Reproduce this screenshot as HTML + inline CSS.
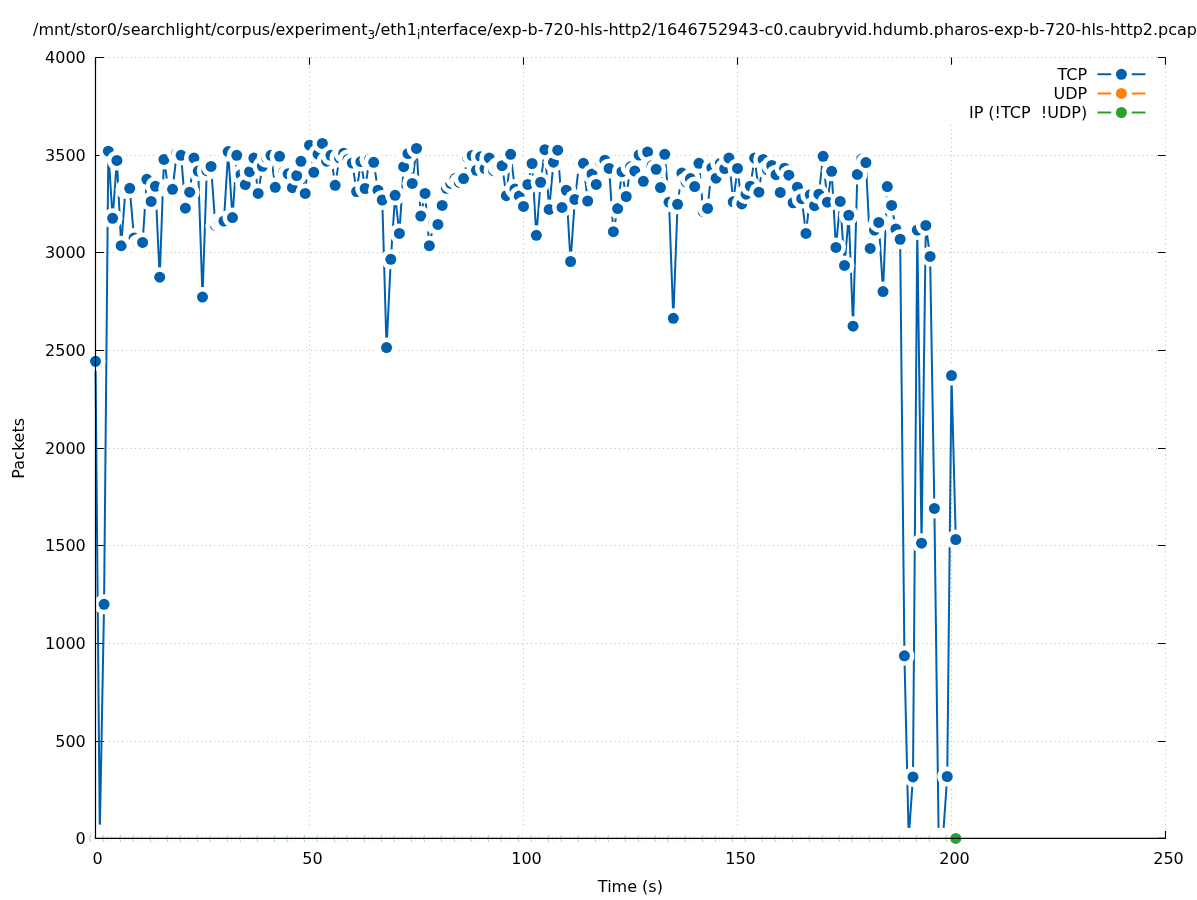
<!DOCTYPE html><html><head><meta charset="utf-8"><title>Packets</title><style>html,body{margin:0;padding:0;background:#fff;overflow:hidden}svg{display:block}text{font-family:"DejaVu Sans","Liberation Sans",sans-serif;font-size:16px;fill:#000}</style></head><body>
<svg width="1197" height="900" viewBox="0 0 1197 900">
<rect width="1197" height="900" fill="#fff"/>
<path d="M95.5 741.5H1165.5M95.5 643.5H1165.5M95.5 545.5H1165.5M95.5 448.5H1165.5M95.5 350.5H1165.5M95.5 252.5H1165.5M95.5 155.5H1165.5M95.5 57.5H1165.5M309.5 838.4V57.5M523.5 838.4V57.5M737.5 838.4V57.5M951.5 838.4V57.5M1165.5 838.4V57.5" stroke="#b8b8b8" stroke-width="1" stroke-dasharray="1 3.4" fill="none"/>
<path d="M95.5 838.4h8.3M1165.5 838.4h-7.5M95.5 741.5h8.3M1165.5 741.5h-7.5M95.5 643.5h8.3M1165.5 643.5h-7.5M95.5 545.5h8.3M1165.5 545.5h-7.5M95.5 448.5h8.3M1165.5 448.5h-7.5M95.5 350.5h8.3M1165.5 350.5h-7.5M95.5 252.5h8.3M1165.5 252.5h-7.5M95.5 155.5h8.3M1165.5 155.5h-7.5M95.5 57.5h8.3M1165.5 57.5h-7.5M95.5 838.4v-7.3M95.5 57.5v7.2M309.5 838.4v-7.3M309.5 57.5v7.2M523.5 838.4v-7.3M523.5 57.5v7.2M737.5 838.4v-7.3M737.5 57.5v7.2M951.5 838.4v-7.3M951.5 57.5v7.2M1165.5 838.4v-7.3M1165.5 57.5v7.2" stroke="#000" stroke-width="1.1" fill="none"/>
<rect x="940" y="65.5" width="218" height="59" fill="#fff"/>
<text x="85.8" y="844.0" text-anchor="end">0</text><text x="85.8" y="747.1" text-anchor="end">500</text><text x="85.8" y="649.1" text-anchor="end">1000</text><text x="85.8" y="551.1" text-anchor="end">1500</text><text x="85.8" y="454.1" text-anchor="end">2000</text><text x="85.8" y="356.1" text-anchor="end">2500</text><text x="85.8" y="258.1" text-anchor="end">3000</text><text x="85.8" y="161.1" text-anchor="end">3500</text><text x="85.8" y="63.1" text-anchor="end">4000</text><text x="97.5" y="863.8" text-anchor="middle">0</text><text x="312.5" y="863.8" text-anchor="middle">50</text><text x="526.5" y="863.8" text-anchor="middle">100</text><text x="740.5" y="863.8" text-anchor="middle">150</text><text x="954.5" y="863.8" text-anchor="middle">200</text><text x="1168.5" y="863.8" text-anchor="middle">250</text>
<path d="M95.50 361.27L99.78 834.50L104.06 604.33L108.34 151.21L112.62 218.37L116.90 160.38L121.18 245.70L125.46 189.08L129.74 188.30L134.02 238.08L138.30 243.94L142.58 242.38L146.86 179.32L151.14 201.38L155.42 186.35L159.70 277.13L163.98 159.41L168.26 188.30L172.54 189.28L176.82 153.16L181.10 155.31L185.38 208.21L189.66 192.21L193.94 158.04L198.22 171.12L202.50 297.04L206.78 170.73L211.06 166.44L215.34 225.39L219.62 222.27L223.90 221.10L228.18 151.60L232.46 217.58L236.74 155.31L241.02 174.63L245.30 184.59L249.58 171.71L253.86 158.04L258.14 193.38L262.42 166.24L266.70 157.85L270.98 155.31L275.26 187.32L279.54 156.28L283.82 171.71L288.10 173.85L292.38 187.72L296.66 175.61L300.94 161.36L305.22 193.38L309.50 145.16L313.78 172.29L318.06 154.14L322.34 143.40L326.62 161.16L330.90 155.31L335.18 185.37L339.46 157.85L343.74 153.16L348.02 159.21L352.30 163.12L356.58 191.62L360.86 161.55L365.14 188.50L369.42 159.41L373.70 162.34L377.98 190.25L382.26 200.01L386.54 347.60L390.82 259.36L395.10 195.33L399.38 233.40L403.66 166.63L407.94 153.55L412.22 183.42L416.50 148.47L420.78 216.02L425.06 193.38L429.34 245.70L433.62 223.44L437.90 224.42L442.18 205.48L446.46 188.30L450.74 183.42L455.02 178.54L459.30 182.44L463.58 178.54L467.86 157.65L472.14 155.50L476.42 170.34L480.70 156.67L484.98 168.58L489.26 158.04L493.54 170.73L497.82 166.83L502.10 165.65L506.38 195.72L510.66 154.33L514.94 188.89L519.22 196.11L523.50 206.46L527.78 184.40L532.06 163.51L536.34 235.35L540.62 182.25L544.90 149.65L549.18 209.39L553.46 162.14L557.74 150.23L562.02 207.43L566.30 190.25L570.58 261.51L574.86 199.43L579.14 163.90L583.42 163.31L587.70 200.99L591.98 174.05L596.26 184.40L600.54 162.14L604.82 160.19L609.10 168.39L613.38 231.64L617.66 208.60L621.94 171.71L626.22 196.50L630.50 166.83L634.78 171.12L639.06 155.11L643.34 181.27L647.62 151.99L651.90 165.85L656.18 169.36L660.46 187.52L664.74 154.33L669.02 202.16L673.30 318.32L677.58 204.31L681.86 173.07L686.14 182.05L690.42 178.54L694.70 186.54L698.98 163.31L703.26 211.73L707.54 208.41L711.82 167.80L716.10 178.15L720.38 163.31L724.66 168.58L728.94 158.04L733.22 201.77L737.50 168.39L741.78 203.92L746.06 194.16L750.34 186.15L754.62 158.04L758.90 192.21L763.18 159.41L767.46 169.75L771.74 165.46L776.02 174.63L780.30 192.40L784.58 168.19L788.86 175.22L793.14 202.75L797.42 187.13L801.70 198.65L805.98 233.40L810.26 194.74L814.54 205.68L818.82 194.16L823.10 156.28L827.38 202.16L831.66 171.32L835.94 247.45L840.22 201.38L844.50 265.41L848.78 215.24L853.06 326.13L857.34 174.44L861.62 159.02L865.90 162.53L870.18 248.43L874.46 230.08L878.74 222.47L883.02 291.57L887.30 186.54L891.58 205.48L895.86 229.10L900.14 239.25L904.42 655.86L908.70 837.81L912.98 776.90L917.26 230.08L921.54 543.22L925.82 225.39L930.10 256.43L934.38 508.47L938.66 837.81L942.94 837.81L947.22 776.51L951.50 375.52L955.78 539.51" stroke="#0060ad" stroke-width="2.0" fill="none" stroke-linejoin="round"/><circle cx="95.50" cy="361.27" r="10.0" fill="#fff"/><circle cx="95.50" cy="361.27" r="5.5" fill="#0060ad"/><circle cx="99.78" cy="834.50" r="10.0" fill="#fff"/><circle cx="99.78" cy="834.50" r="5.5" fill="#0060ad"/><circle cx="104.06" cy="604.33" r="10.0" fill="#fff"/><circle cx="104.06" cy="604.33" r="5.5" fill="#0060ad"/><circle cx="108.34" cy="151.21" r="10.0" fill="#fff"/><circle cx="108.34" cy="151.21" r="5.5" fill="#0060ad"/><circle cx="112.62" cy="218.37" r="10.0" fill="#fff"/><circle cx="112.62" cy="218.37" r="5.5" fill="#0060ad"/><circle cx="116.90" cy="160.38" r="10.0" fill="#fff"/><circle cx="116.90" cy="160.38" r="5.5" fill="#0060ad"/><circle cx="121.18" cy="245.70" r="10.0" fill="#fff"/><circle cx="121.18" cy="245.70" r="5.5" fill="#0060ad"/><circle cx="125.46" cy="189.08" r="10.0" fill="#fff"/><circle cx="125.46" cy="189.08" r="5.5" fill="#0060ad"/><circle cx="129.74" cy="188.30" r="10.0" fill="#fff"/><circle cx="129.74" cy="188.30" r="5.5" fill="#0060ad"/><circle cx="134.02" cy="238.08" r="10.0" fill="#fff"/><circle cx="134.02" cy="238.08" r="5.5" fill="#0060ad"/><circle cx="138.30" cy="243.94" r="10.0" fill="#fff"/><circle cx="138.30" cy="243.94" r="5.5" fill="#0060ad"/><circle cx="142.58" cy="242.38" r="10.0" fill="#fff"/><circle cx="142.58" cy="242.38" r="5.5" fill="#0060ad"/><circle cx="146.86" cy="179.32" r="10.0" fill="#fff"/><circle cx="146.86" cy="179.32" r="5.5" fill="#0060ad"/><circle cx="151.14" cy="201.38" r="10.0" fill="#fff"/><circle cx="151.14" cy="201.38" r="5.5" fill="#0060ad"/><circle cx="155.42" cy="186.35" r="10.0" fill="#fff"/><circle cx="155.42" cy="186.35" r="5.5" fill="#0060ad"/><circle cx="159.70" cy="277.13" r="10.0" fill="#fff"/><circle cx="159.70" cy="277.13" r="5.5" fill="#0060ad"/><circle cx="163.98" cy="159.41" r="10.0" fill="#fff"/><circle cx="163.98" cy="159.41" r="5.5" fill="#0060ad"/><circle cx="168.26" cy="188.30" r="10.0" fill="#fff"/><circle cx="168.26" cy="188.30" r="5.5" fill="#0060ad"/><circle cx="172.54" cy="189.28" r="10.0" fill="#fff"/><circle cx="172.54" cy="189.28" r="5.5" fill="#0060ad"/><circle cx="176.82" cy="153.16" r="10.0" fill="#fff"/><circle cx="176.82" cy="153.16" r="5.5" fill="#0060ad"/><circle cx="181.10" cy="155.31" r="10.0" fill="#fff"/><circle cx="181.10" cy="155.31" r="5.5" fill="#0060ad"/><circle cx="185.38" cy="208.21" r="10.0" fill="#fff"/><circle cx="185.38" cy="208.21" r="5.5" fill="#0060ad"/><circle cx="189.66" cy="192.21" r="10.0" fill="#fff"/><circle cx="189.66" cy="192.21" r="5.5" fill="#0060ad"/><circle cx="193.94" cy="158.04" r="10.0" fill="#fff"/><circle cx="193.94" cy="158.04" r="5.5" fill="#0060ad"/><circle cx="198.22" cy="171.12" r="10.0" fill="#fff"/><circle cx="198.22" cy="171.12" r="5.5" fill="#0060ad"/><circle cx="202.50" cy="297.04" r="10.0" fill="#fff"/><circle cx="202.50" cy="297.04" r="5.5" fill="#0060ad"/><circle cx="206.78" cy="170.73" r="10.0" fill="#fff"/><circle cx="206.78" cy="170.73" r="5.5" fill="#0060ad"/><circle cx="211.06" cy="166.44" r="10.0" fill="#fff"/><circle cx="211.06" cy="166.44" r="5.5" fill="#0060ad"/><circle cx="215.34" cy="225.39" r="10.0" fill="#fff"/><circle cx="215.34" cy="225.39" r="5.5" fill="#0060ad"/><circle cx="219.62" cy="222.27" r="10.0" fill="#fff"/><circle cx="219.62" cy="222.27" r="5.5" fill="#0060ad"/><circle cx="223.90" cy="221.10" r="10.0" fill="#fff"/><circle cx="223.90" cy="221.10" r="5.5" fill="#0060ad"/><circle cx="228.18" cy="151.60" r="10.0" fill="#fff"/><circle cx="228.18" cy="151.60" r="5.5" fill="#0060ad"/><circle cx="232.46" cy="217.58" r="10.0" fill="#fff"/><circle cx="232.46" cy="217.58" r="5.5" fill="#0060ad"/><circle cx="236.74" cy="155.31" r="10.0" fill="#fff"/><circle cx="236.74" cy="155.31" r="5.5" fill="#0060ad"/><circle cx="241.02" cy="174.63" r="10.0" fill="#fff"/><circle cx="241.02" cy="174.63" r="5.5" fill="#0060ad"/><circle cx="245.30" cy="184.59" r="10.0" fill="#fff"/><circle cx="245.30" cy="184.59" r="5.5" fill="#0060ad"/><circle cx="249.58" cy="171.71" r="10.0" fill="#fff"/><circle cx="249.58" cy="171.71" r="5.5" fill="#0060ad"/><circle cx="253.86" cy="158.04" r="10.0" fill="#fff"/><circle cx="253.86" cy="158.04" r="5.5" fill="#0060ad"/><circle cx="258.14" cy="193.38" r="10.0" fill="#fff"/><circle cx="258.14" cy="193.38" r="5.5" fill="#0060ad"/><circle cx="262.42" cy="166.24" r="10.0" fill="#fff"/><circle cx="262.42" cy="166.24" r="5.5" fill="#0060ad"/><circle cx="266.70" cy="157.85" r="10.0" fill="#fff"/><circle cx="266.70" cy="157.85" r="5.5" fill="#0060ad"/><circle cx="270.98" cy="155.31" r="10.0" fill="#fff"/><circle cx="270.98" cy="155.31" r="5.5" fill="#0060ad"/><circle cx="275.26" cy="187.32" r="10.0" fill="#fff"/><circle cx="275.26" cy="187.32" r="5.5" fill="#0060ad"/><circle cx="279.54" cy="156.28" r="10.0" fill="#fff"/><circle cx="279.54" cy="156.28" r="5.5" fill="#0060ad"/><circle cx="283.82" cy="171.71" r="10.0" fill="#fff"/><circle cx="283.82" cy="171.71" r="5.5" fill="#0060ad"/><circle cx="288.10" cy="173.85" r="10.0" fill="#fff"/><circle cx="288.10" cy="173.85" r="5.5" fill="#0060ad"/><circle cx="292.38" cy="187.72" r="10.0" fill="#fff"/><circle cx="292.38" cy="187.72" r="5.5" fill="#0060ad"/><circle cx="296.66" cy="175.61" r="10.0" fill="#fff"/><circle cx="296.66" cy="175.61" r="5.5" fill="#0060ad"/><circle cx="300.94" cy="161.36" r="10.0" fill="#fff"/><circle cx="300.94" cy="161.36" r="5.5" fill="#0060ad"/><circle cx="305.22" cy="193.38" r="10.0" fill="#fff"/><circle cx="305.22" cy="193.38" r="5.5" fill="#0060ad"/><circle cx="309.50" cy="145.16" r="10.0" fill="#fff"/><circle cx="309.50" cy="145.16" r="5.5" fill="#0060ad"/><circle cx="313.78" cy="172.29" r="10.0" fill="#fff"/><circle cx="313.78" cy="172.29" r="5.5" fill="#0060ad"/><circle cx="318.06" cy="154.14" r="10.0" fill="#fff"/><circle cx="318.06" cy="154.14" r="5.5" fill="#0060ad"/><circle cx="322.34" cy="143.40" r="10.0" fill="#fff"/><circle cx="322.34" cy="143.40" r="5.5" fill="#0060ad"/><circle cx="326.62" cy="161.16" r="10.0" fill="#fff"/><circle cx="326.62" cy="161.16" r="5.5" fill="#0060ad"/><circle cx="330.90" cy="155.31" r="10.0" fill="#fff"/><circle cx="330.90" cy="155.31" r="5.5" fill="#0060ad"/><circle cx="335.18" cy="185.37" r="10.0" fill="#fff"/><circle cx="335.18" cy="185.37" r="5.5" fill="#0060ad"/><circle cx="339.46" cy="157.85" r="10.0" fill="#fff"/><circle cx="339.46" cy="157.85" r="5.5" fill="#0060ad"/><circle cx="343.74" cy="153.16" r="10.0" fill="#fff"/><circle cx="343.74" cy="153.16" r="5.5" fill="#0060ad"/><circle cx="348.02" cy="159.21" r="10.0" fill="#fff"/><circle cx="348.02" cy="159.21" r="5.5" fill="#0060ad"/><circle cx="352.30" cy="163.12" r="10.0" fill="#fff"/><circle cx="352.30" cy="163.12" r="5.5" fill="#0060ad"/><circle cx="356.58" cy="191.62" r="10.0" fill="#fff"/><circle cx="356.58" cy="191.62" r="5.5" fill="#0060ad"/><circle cx="360.86" cy="161.55" r="10.0" fill="#fff"/><circle cx="360.86" cy="161.55" r="5.5" fill="#0060ad"/><circle cx="365.14" cy="188.50" r="10.0" fill="#fff"/><circle cx="365.14" cy="188.50" r="5.5" fill="#0060ad"/><circle cx="369.42" cy="159.41" r="10.0" fill="#fff"/><circle cx="369.42" cy="159.41" r="5.5" fill="#0060ad"/><circle cx="373.70" cy="162.34" r="10.0" fill="#fff"/><circle cx="373.70" cy="162.34" r="5.5" fill="#0060ad"/><circle cx="377.98" cy="190.25" r="10.0" fill="#fff"/><circle cx="377.98" cy="190.25" r="5.5" fill="#0060ad"/><circle cx="382.26" cy="200.01" r="10.0" fill="#fff"/><circle cx="382.26" cy="200.01" r="5.5" fill="#0060ad"/><circle cx="386.54" cy="347.60" r="10.0" fill="#fff"/><circle cx="386.54" cy="347.60" r="5.5" fill="#0060ad"/><circle cx="390.82" cy="259.36" r="10.0" fill="#fff"/><circle cx="390.82" cy="259.36" r="5.5" fill="#0060ad"/><circle cx="395.10" cy="195.33" r="10.0" fill="#fff"/><circle cx="395.10" cy="195.33" r="5.5" fill="#0060ad"/><circle cx="399.38" cy="233.40" r="10.0" fill="#fff"/><circle cx="399.38" cy="233.40" r="5.5" fill="#0060ad"/><circle cx="403.66" cy="166.63" r="10.0" fill="#fff"/><circle cx="403.66" cy="166.63" r="5.5" fill="#0060ad"/><circle cx="407.94" cy="153.55" r="10.0" fill="#fff"/><circle cx="407.94" cy="153.55" r="5.5" fill="#0060ad"/><circle cx="412.22" cy="183.42" r="10.0" fill="#fff"/><circle cx="412.22" cy="183.42" r="5.5" fill="#0060ad"/><circle cx="416.50" cy="148.47" r="10.0" fill="#fff"/><circle cx="416.50" cy="148.47" r="5.5" fill="#0060ad"/><circle cx="420.78" cy="216.02" r="10.0" fill="#fff"/><circle cx="420.78" cy="216.02" r="5.5" fill="#0060ad"/><circle cx="425.06" cy="193.38" r="10.0" fill="#fff"/><circle cx="425.06" cy="193.38" r="5.5" fill="#0060ad"/><circle cx="429.34" cy="245.70" r="10.0" fill="#fff"/><circle cx="429.34" cy="245.70" r="5.5" fill="#0060ad"/><circle cx="433.62" cy="223.44" r="10.0" fill="#fff"/><circle cx="433.62" cy="223.44" r="5.5" fill="#0060ad"/><circle cx="437.90" cy="224.42" r="10.0" fill="#fff"/><circle cx="437.90" cy="224.42" r="5.5" fill="#0060ad"/><circle cx="442.18" cy="205.48" r="10.0" fill="#fff"/><circle cx="442.18" cy="205.48" r="5.5" fill="#0060ad"/><circle cx="446.46" cy="188.30" r="10.0" fill="#fff"/><circle cx="446.46" cy="188.30" r="5.5" fill="#0060ad"/><circle cx="450.74" cy="183.42" r="10.0" fill="#fff"/><circle cx="450.74" cy="183.42" r="5.5" fill="#0060ad"/><circle cx="455.02" cy="178.54" r="10.0" fill="#fff"/><circle cx="455.02" cy="178.54" r="5.5" fill="#0060ad"/><circle cx="459.30" cy="182.44" r="10.0" fill="#fff"/><circle cx="459.30" cy="182.44" r="5.5" fill="#0060ad"/><circle cx="463.58" cy="178.54" r="10.0" fill="#fff"/><circle cx="463.58" cy="178.54" r="5.5" fill="#0060ad"/><circle cx="467.86" cy="157.65" r="10.0" fill="#fff"/><circle cx="467.86" cy="157.65" r="5.5" fill="#0060ad"/><circle cx="472.14" cy="155.50" r="10.0" fill="#fff"/><circle cx="472.14" cy="155.50" r="5.5" fill="#0060ad"/><circle cx="476.42" cy="170.34" r="10.0" fill="#fff"/><circle cx="476.42" cy="170.34" r="5.5" fill="#0060ad"/><circle cx="480.70" cy="156.67" r="10.0" fill="#fff"/><circle cx="480.70" cy="156.67" r="5.5" fill="#0060ad"/><circle cx="484.98" cy="168.58" r="10.0" fill="#fff"/><circle cx="484.98" cy="168.58" r="5.5" fill="#0060ad"/><circle cx="489.26" cy="158.04" r="10.0" fill="#fff"/><circle cx="489.26" cy="158.04" r="5.5" fill="#0060ad"/><circle cx="493.54" cy="170.73" r="10.0" fill="#fff"/><circle cx="493.54" cy="170.73" r="5.5" fill="#0060ad"/><circle cx="497.82" cy="166.83" r="10.0" fill="#fff"/><circle cx="497.82" cy="166.83" r="5.5" fill="#0060ad"/><circle cx="502.10" cy="165.65" r="10.0" fill="#fff"/><circle cx="502.10" cy="165.65" r="5.5" fill="#0060ad"/><circle cx="506.38" cy="195.72" r="10.0" fill="#fff"/><circle cx="506.38" cy="195.72" r="5.5" fill="#0060ad"/><circle cx="510.66" cy="154.33" r="10.0" fill="#fff"/><circle cx="510.66" cy="154.33" r="5.5" fill="#0060ad"/><circle cx="514.94" cy="188.89" r="10.0" fill="#fff"/><circle cx="514.94" cy="188.89" r="5.5" fill="#0060ad"/><circle cx="519.22" cy="196.11" r="10.0" fill="#fff"/><circle cx="519.22" cy="196.11" r="5.5" fill="#0060ad"/><circle cx="523.50" cy="206.46" r="10.0" fill="#fff"/><circle cx="523.50" cy="206.46" r="5.5" fill="#0060ad"/><circle cx="527.78" cy="184.40" r="10.0" fill="#fff"/><circle cx="527.78" cy="184.40" r="5.5" fill="#0060ad"/><circle cx="532.06" cy="163.51" r="10.0" fill="#fff"/><circle cx="532.06" cy="163.51" r="5.5" fill="#0060ad"/><circle cx="536.34" cy="235.35" r="10.0" fill="#fff"/><circle cx="536.34" cy="235.35" r="5.5" fill="#0060ad"/><circle cx="540.62" cy="182.25" r="10.0" fill="#fff"/><circle cx="540.62" cy="182.25" r="5.5" fill="#0060ad"/><circle cx="544.90" cy="149.65" r="10.0" fill="#fff"/><circle cx="544.90" cy="149.65" r="5.5" fill="#0060ad"/><circle cx="549.18" cy="209.39" r="10.0" fill="#fff"/><circle cx="549.18" cy="209.39" r="5.5" fill="#0060ad"/><circle cx="553.46" cy="162.14" r="10.0" fill="#fff"/><circle cx="553.46" cy="162.14" r="5.5" fill="#0060ad"/><circle cx="557.74" cy="150.23" r="10.0" fill="#fff"/><circle cx="557.74" cy="150.23" r="5.5" fill="#0060ad"/><circle cx="562.02" cy="207.43" r="10.0" fill="#fff"/><circle cx="562.02" cy="207.43" r="5.5" fill="#0060ad"/><circle cx="566.30" cy="190.25" r="10.0" fill="#fff"/><circle cx="566.30" cy="190.25" r="5.5" fill="#0060ad"/><circle cx="570.58" cy="261.51" r="10.0" fill="#fff"/><circle cx="570.58" cy="261.51" r="5.5" fill="#0060ad"/><circle cx="574.86" cy="199.43" r="10.0" fill="#fff"/><circle cx="574.86" cy="199.43" r="5.5" fill="#0060ad"/><circle cx="579.14" cy="163.90" r="10.0" fill="#fff"/><circle cx="579.14" cy="163.90" r="5.5" fill="#0060ad"/><circle cx="583.42" cy="163.31" r="10.0" fill="#fff"/><circle cx="583.42" cy="163.31" r="5.5" fill="#0060ad"/><circle cx="587.70" cy="200.99" r="10.0" fill="#fff"/><circle cx="587.70" cy="200.99" r="5.5" fill="#0060ad"/><circle cx="591.98" cy="174.05" r="10.0" fill="#fff"/><circle cx="591.98" cy="174.05" r="5.5" fill="#0060ad"/><circle cx="596.26" cy="184.40" r="10.0" fill="#fff"/><circle cx="596.26" cy="184.40" r="5.5" fill="#0060ad"/><circle cx="600.54" cy="162.14" r="10.0" fill="#fff"/><circle cx="600.54" cy="162.14" r="5.5" fill="#0060ad"/><circle cx="604.82" cy="160.19" r="10.0" fill="#fff"/><circle cx="604.82" cy="160.19" r="5.5" fill="#0060ad"/><circle cx="609.10" cy="168.39" r="10.0" fill="#fff"/><circle cx="609.10" cy="168.39" r="5.5" fill="#0060ad"/><circle cx="613.38" cy="231.64" r="10.0" fill="#fff"/><circle cx="613.38" cy="231.64" r="5.5" fill="#0060ad"/><circle cx="617.66" cy="208.60" r="10.0" fill="#fff"/><circle cx="617.66" cy="208.60" r="5.5" fill="#0060ad"/><circle cx="621.94" cy="171.71" r="10.0" fill="#fff"/><circle cx="621.94" cy="171.71" r="5.5" fill="#0060ad"/><circle cx="626.22" cy="196.50" r="10.0" fill="#fff"/><circle cx="626.22" cy="196.50" r="5.5" fill="#0060ad"/><circle cx="630.50" cy="166.83" r="10.0" fill="#fff"/><circle cx="630.50" cy="166.83" r="5.5" fill="#0060ad"/><circle cx="634.78" cy="171.12" r="10.0" fill="#fff"/><circle cx="634.78" cy="171.12" r="5.5" fill="#0060ad"/><circle cx="639.06" cy="155.11" r="10.0" fill="#fff"/><circle cx="639.06" cy="155.11" r="5.5" fill="#0060ad"/><circle cx="643.34" cy="181.27" r="10.0" fill="#fff"/><circle cx="643.34" cy="181.27" r="5.5" fill="#0060ad"/><circle cx="647.62" cy="151.99" r="10.0" fill="#fff"/><circle cx="647.62" cy="151.99" r="5.5" fill="#0060ad"/><circle cx="651.90" cy="165.85" r="10.0" fill="#fff"/><circle cx="651.90" cy="165.85" r="5.5" fill="#0060ad"/><circle cx="656.18" cy="169.36" r="10.0" fill="#fff"/><circle cx="656.18" cy="169.36" r="5.5" fill="#0060ad"/><circle cx="660.46" cy="187.52" r="10.0" fill="#fff"/><circle cx="660.46" cy="187.52" r="5.5" fill="#0060ad"/><circle cx="664.74" cy="154.33" r="10.0" fill="#fff"/><circle cx="664.74" cy="154.33" r="5.5" fill="#0060ad"/><circle cx="669.02" cy="202.16" r="10.0" fill="#fff"/><circle cx="669.02" cy="202.16" r="5.5" fill="#0060ad"/><circle cx="673.30" cy="318.32" r="10.0" fill="#fff"/><circle cx="673.30" cy="318.32" r="5.5" fill="#0060ad"/><circle cx="677.58" cy="204.31" r="10.0" fill="#fff"/><circle cx="677.58" cy="204.31" r="5.5" fill="#0060ad"/><circle cx="681.86" cy="173.07" r="10.0" fill="#fff"/><circle cx="681.86" cy="173.07" r="5.5" fill="#0060ad"/><circle cx="686.14" cy="182.05" r="10.0" fill="#fff"/><circle cx="686.14" cy="182.05" r="5.5" fill="#0060ad"/><circle cx="690.42" cy="178.54" r="10.0" fill="#fff"/><circle cx="690.42" cy="178.54" r="5.5" fill="#0060ad"/><circle cx="694.70" cy="186.54" r="10.0" fill="#fff"/><circle cx="694.70" cy="186.54" r="5.5" fill="#0060ad"/><circle cx="698.98" cy="163.31" r="10.0" fill="#fff"/><circle cx="698.98" cy="163.31" r="5.5" fill="#0060ad"/><circle cx="703.26" cy="211.73" r="10.0" fill="#fff"/><circle cx="703.26" cy="211.73" r="5.5" fill="#0060ad"/><circle cx="707.54" cy="208.41" r="10.0" fill="#fff"/><circle cx="707.54" cy="208.41" r="5.5" fill="#0060ad"/><circle cx="711.82" cy="167.80" r="10.0" fill="#fff"/><circle cx="711.82" cy="167.80" r="5.5" fill="#0060ad"/><circle cx="716.10" cy="178.15" r="10.0" fill="#fff"/><circle cx="716.10" cy="178.15" r="5.5" fill="#0060ad"/><circle cx="720.38" cy="163.31" r="10.0" fill="#fff"/><circle cx="720.38" cy="163.31" r="5.5" fill="#0060ad"/><circle cx="724.66" cy="168.58" r="10.0" fill="#fff"/><circle cx="724.66" cy="168.58" r="5.5" fill="#0060ad"/><circle cx="728.94" cy="158.04" r="10.0" fill="#fff"/><circle cx="728.94" cy="158.04" r="5.5" fill="#0060ad"/><circle cx="733.22" cy="201.77" r="10.0" fill="#fff"/><circle cx="733.22" cy="201.77" r="5.5" fill="#0060ad"/><circle cx="737.50" cy="168.39" r="10.0" fill="#fff"/><circle cx="737.50" cy="168.39" r="5.5" fill="#0060ad"/><circle cx="741.78" cy="203.92" r="10.0" fill="#fff"/><circle cx="741.78" cy="203.92" r="5.5" fill="#0060ad"/><circle cx="746.06" cy="194.16" r="10.0" fill="#fff"/><circle cx="746.06" cy="194.16" r="5.5" fill="#0060ad"/><circle cx="750.34" cy="186.15" r="10.0" fill="#fff"/><circle cx="750.34" cy="186.15" r="5.5" fill="#0060ad"/><circle cx="754.62" cy="158.04" r="10.0" fill="#fff"/><circle cx="754.62" cy="158.04" r="5.5" fill="#0060ad"/><circle cx="758.90" cy="192.21" r="10.0" fill="#fff"/><circle cx="758.90" cy="192.21" r="5.5" fill="#0060ad"/><circle cx="763.18" cy="159.41" r="10.0" fill="#fff"/><circle cx="763.18" cy="159.41" r="5.5" fill="#0060ad"/><circle cx="767.46" cy="169.75" r="10.0" fill="#fff"/><circle cx="767.46" cy="169.75" r="5.5" fill="#0060ad"/><circle cx="771.74" cy="165.46" r="10.0" fill="#fff"/><circle cx="771.74" cy="165.46" r="5.5" fill="#0060ad"/><circle cx="776.02" cy="174.63" r="10.0" fill="#fff"/><circle cx="776.02" cy="174.63" r="5.5" fill="#0060ad"/><circle cx="780.30" cy="192.40" r="10.0" fill="#fff"/><circle cx="780.30" cy="192.40" r="5.5" fill="#0060ad"/><circle cx="784.58" cy="168.19" r="10.0" fill="#fff"/><circle cx="784.58" cy="168.19" r="5.5" fill="#0060ad"/><circle cx="788.86" cy="175.22" r="10.0" fill="#fff"/><circle cx="788.86" cy="175.22" r="5.5" fill="#0060ad"/><circle cx="793.14" cy="202.75" r="10.0" fill="#fff"/><circle cx="793.14" cy="202.75" r="5.5" fill="#0060ad"/><circle cx="797.42" cy="187.13" r="10.0" fill="#fff"/><circle cx="797.42" cy="187.13" r="5.5" fill="#0060ad"/><circle cx="801.70" cy="198.65" r="10.0" fill="#fff"/><circle cx="801.70" cy="198.65" r="5.5" fill="#0060ad"/><circle cx="805.98" cy="233.40" r="10.0" fill="#fff"/><circle cx="805.98" cy="233.40" r="5.5" fill="#0060ad"/><circle cx="810.26" cy="194.74" r="10.0" fill="#fff"/><circle cx="810.26" cy="194.74" r="5.5" fill="#0060ad"/><circle cx="814.54" cy="205.68" r="10.0" fill="#fff"/><circle cx="814.54" cy="205.68" r="5.5" fill="#0060ad"/><circle cx="818.82" cy="194.16" r="10.0" fill="#fff"/><circle cx="818.82" cy="194.16" r="5.5" fill="#0060ad"/><circle cx="823.10" cy="156.28" r="10.0" fill="#fff"/><circle cx="823.10" cy="156.28" r="5.5" fill="#0060ad"/><circle cx="827.38" cy="202.16" r="10.0" fill="#fff"/><circle cx="827.38" cy="202.16" r="5.5" fill="#0060ad"/><circle cx="831.66" cy="171.32" r="10.0" fill="#fff"/><circle cx="831.66" cy="171.32" r="5.5" fill="#0060ad"/><circle cx="835.94" cy="247.45" r="10.0" fill="#fff"/><circle cx="835.94" cy="247.45" r="5.5" fill="#0060ad"/><circle cx="840.22" cy="201.38" r="10.0" fill="#fff"/><circle cx="840.22" cy="201.38" r="5.5" fill="#0060ad"/><circle cx="844.50" cy="265.41" r="10.0" fill="#fff"/><circle cx="844.50" cy="265.41" r="5.5" fill="#0060ad"/><circle cx="848.78" cy="215.24" r="10.0" fill="#fff"/><circle cx="848.78" cy="215.24" r="5.5" fill="#0060ad"/><circle cx="853.06" cy="326.13" r="10.0" fill="#fff"/><circle cx="853.06" cy="326.13" r="5.5" fill="#0060ad"/><circle cx="857.34" cy="174.44" r="10.0" fill="#fff"/><circle cx="857.34" cy="174.44" r="5.5" fill="#0060ad"/><circle cx="861.62" cy="159.02" r="10.0" fill="#fff"/><circle cx="861.62" cy="159.02" r="5.5" fill="#0060ad"/><circle cx="865.90" cy="162.53" r="10.0" fill="#fff"/><circle cx="865.90" cy="162.53" r="5.5" fill="#0060ad"/><circle cx="870.18" cy="248.43" r="10.0" fill="#fff"/><circle cx="870.18" cy="248.43" r="5.5" fill="#0060ad"/><circle cx="874.46" cy="230.08" r="10.0" fill="#fff"/><circle cx="874.46" cy="230.08" r="5.5" fill="#0060ad"/><circle cx="878.74" cy="222.47" r="10.0" fill="#fff"/><circle cx="878.74" cy="222.47" r="5.5" fill="#0060ad"/><circle cx="883.02" cy="291.57" r="10.0" fill="#fff"/><circle cx="883.02" cy="291.57" r="5.5" fill="#0060ad"/><circle cx="887.30" cy="186.54" r="10.0" fill="#fff"/><circle cx="887.30" cy="186.54" r="5.5" fill="#0060ad"/><circle cx="891.58" cy="205.48" r="10.0" fill="#fff"/><circle cx="891.58" cy="205.48" r="5.5" fill="#0060ad"/><circle cx="895.86" cy="229.10" r="10.0" fill="#fff"/><circle cx="895.86" cy="229.10" r="5.5" fill="#0060ad"/><circle cx="900.14" cy="239.25" r="10.0" fill="#fff"/><circle cx="900.14" cy="239.25" r="5.5" fill="#0060ad"/><circle cx="904.42" cy="655.86" r="10.0" fill="#fff"/><circle cx="904.42" cy="655.86" r="5.5" fill="#0060ad"/><circle cx="908.70" cy="837.81" r="10.0" fill="#fff"/><circle cx="908.70" cy="837.81" r="5.5" fill="#0060ad"/><circle cx="912.98" cy="776.90" r="10.0" fill="#fff"/><circle cx="912.98" cy="776.90" r="5.5" fill="#0060ad"/><circle cx="917.26" cy="230.08" r="10.0" fill="#fff"/><circle cx="917.26" cy="230.08" r="5.5" fill="#0060ad"/><circle cx="921.54" cy="543.22" r="10.0" fill="#fff"/><circle cx="921.54" cy="543.22" r="5.5" fill="#0060ad"/><circle cx="925.82" cy="225.39" r="10.0" fill="#fff"/><circle cx="925.82" cy="225.39" r="5.5" fill="#0060ad"/><circle cx="930.10" cy="256.43" r="10.0" fill="#fff"/><circle cx="930.10" cy="256.43" r="5.5" fill="#0060ad"/><circle cx="934.38" cy="508.47" r="10.0" fill="#fff"/><circle cx="934.38" cy="508.47" r="5.5" fill="#0060ad"/><circle cx="938.66" cy="837.81" r="10.0" fill="#fff"/><circle cx="938.66" cy="837.81" r="5.5" fill="#0060ad"/><circle cx="942.94" cy="837.81" r="10.0" fill="#fff"/><circle cx="942.94" cy="837.81" r="5.5" fill="#0060ad"/><circle cx="947.22" cy="776.51" r="10.0" fill="#fff"/><circle cx="947.22" cy="776.51" r="5.5" fill="#0060ad"/><circle cx="951.50" cy="375.52" r="10.0" fill="#fff"/><circle cx="951.50" cy="375.52" r="5.5" fill="#0060ad"/><circle cx="955.78" cy="539.51" r="10.0" fill="#fff"/><circle cx="955.78" cy="539.51" r="5.5" fill="#0060ad"/>
<path d="M95.50 838.40L99.78 838.40L104.06 838.40L108.34 838.40L112.62 838.40L116.90 838.40L121.18 838.40L125.46 838.40L129.74 838.40L134.02 838.40L138.30 838.40L142.58 838.40L146.86 838.40L151.14 838.40L155.42 838.40L159.70 838.40L163.98 838.40L168.26 838.40L172.54 838.40L176.82 838.40L181.10 838.40L185.38 838.40L189.66 838.40L193.94 838.40L198.22 838.40L202.50 838.40L206.78 838.40L211.06 838.40L215.34 838.40L219.62 838.40L223.90 838.40L228.18 838.40L232.46 838.40L236.74 838.40L241.02 838.40L245.30 838.40L249.58 838.40L253.86 838.40L258.14 838.40L262.42 838.40L266.70 838.40L270.98 838.40L275.26 838.40L279.54 838.40L283.82 838.40L288.10 838.40L292.38 838.40L296.66 838.40L300.94 838.40L305.22 838.40L309.50 838.40L313.78 838.40L318.06 838.40L322.34 838.40L326.62 838.40L330.90 838.40L335.18 838.40L339.46 838.40L343.74 838.40L348.02 838.40L352.30 838.40L356.58 838.40L360.86 838.40L365.14 838.40L369.42 838.40L373.70 838.40L377.98 838.40L382.26 838.40L386.54 838.40L390.82 838.40L395.10 838.40L399.38 838.40L403.66 838.40L407.94 838.40L412.22 838.40L416.50 838.40L420.78 838.40L425.06 838.40L429.34 838.40L433.62 838.40L437.90 838.40L442.18 838.40L446.46 838.40L450.74 838.40L455.02 838.40L459.30 838.40L463.58 838.40L467.86 838.40L472.14 838.40L476.42 838.40L480.70 838.40L484.98 838.40L489.26 838.40L493.54 838.40L497.82 838.40L502.10 838.40L506.38 838.40L510.66 838.40L514.94 838.40L519.22 838.40L523.50 838.40L527.78 838.40L532.06 838.40L536.34 838.40L540.62 838.40L544.90 838.40L549.18 838.40L553.46 838.40L557.74 838.40L562.02 838.40L566.30 838.40L570.58 838.40L574.86 838.40L579.14 838.40L583.42 838.40L587.70 838.40L591.98 838.40L596.26 838.40L600.54 838.40L604.82 838.40L609.10 838.40L613.38 838.40L617.66 838.40L621.94 838.40L626.22 838.40L630.50 838.40L634.78 838.40L639.06 838.40L643.34 838.40L647.62 838.40L651.90 838.40L656.18 838.40L660.46 838.40L664.74 838.40L669.02 838.40L673.30 838.40L677.58 838.40L681.86 838.40L686.14 838.40L690.42 838.40L694.70 838.40L698.98 838.40L703.26 838.40L707.54 838.40L711.82 838.40L716.10 838.40L720.38 838.40L724.66 838.40L728.94 838.40L733.22 838.40L737.50 838.40L741.78 838.40L746.06 838.40L750.34 838.40L754.62 838.40L758.90 838.40L763.18 838.40L767.46 838.40L771.74 838.40L776.02 838.40L780.30 838.40L784.58 838.40L788.86 838.40L793.14 838.40L797.42 838.40L801.70 838.40L805.98 838.40L810.26 838.40L814.54 838.40L818.82 838.40L823.10 838.40L827.38 838.40L831.66 838.40L835.94 838.40L840.22 838.40L844.50 838.40L848.78 838.40L853.06 838.40L857.34 838.40L861.62 838.40L865.90 838.40L870.18 838.40L874.46 838.40L878.74 838.40L883.02 838.40L887.30 838.40L891.58 838.40L895.86 838.40L900.14 838.40L904.42 838.40L908.70 838.40L912.98 838.40L917.26 838.40L921.54 838.40L925.82 838.40L930.10 838.40L934.38 838.40L938.66 838.40L942.94 838.40L947.22 838.40L951.50 838.40L955.78 838.40" stroke="#2ca02c" stroke-width="2.0" fill="none" stroke-linejoin="round"/><circle cx="95.50" cy="838.40" r="10.0" fill="#fff"/><circle cx="95.50" cy="838.40" r="5.5" fill="#2ca02c"/><circle cx="99.78" cy="838.40" r="10.0" fill="#fff"/><circle cx="99.78" cy="838.40" r="5.5" fill="#2ca02c"/><circle cx="104.06" cy="838.40" r="10.0" fill="#fff"/><circle cx="104.06" cy="838.40" r="5.5" fill="#2ca02c"/><circle cx="108.34" cy="838.40" r="10.0" fill="#fff"/><circle cx="108.34" cy="838.40" r="5.5" fill="#2ca02c"/><circle cx="112.62" cy="838.40" r="10.0" fill="#fff"/><circle cx="112.62" cy="838.40" r="5.5" fill="#2ca02c"/><circle cx="116.90" cy="838.40" r="10.0" fill="#fff"/><circle cx="116.90" cy="838.40" r="5.5" fill="#2ca02c"/><circle cx="121.18" cy="838.40" r="10.0" fill="#fff"/><circle cx="121.18" cy="838.40" r="5.5" fill="#2ca02c"/><circle cx="125.46" cy="838.40" r="10.0" fill="#fff"/><circle cx="125.46" cy="838.40" r="5.5" fill="#2ca02c"/><circle cx="129.74" cy="838.40" r="10.0" fill="#fff"/><circle cx="129.74" cy="838.40" r="5.5" fill="#2ca02c"/><circle cx="134.02" cy="838.40" r="10.0" fill="#fff"/><circle cx="134.02" cy="838.40" r="5.5" fill="#2ca02c"/><circle cx="138.30" cy="838.40" r="10.0" fill="#fff"/><circle cx="138.30" cy="838.40" r="5.5" fill="#2ca02c"/><circle cx="142.58" cy="838.40" r="10.0" fill="#fff"/><circle cx="142.58" cy="838.40" r="5.5" fill="#2ca02c"/><circle cx="146.86" cy="838.40" r="10.0" fill="#fff"/><circle cx="146.86" cy="838.40" r="5.5" fill="#2ca02c"/><circle cx="151.14" cy="838.40" r="10.0" fill="#fff"/><circle cx="151.14" cy="838.40" r="5.5" fill="#2ca02c"/><circle cx="155.42" cy="838.40" r="10.0" fill="#fff"/><circle cx="155.42" cy="838.40" r="5.5" fill="#2ca02c"/><circle cx="159.70" cy="838.40" r="10.0" fill="#fff"/><circle cx="159.70" cy="838.40" r="5.5" fill="#2ca02c"/><circle cx="163.98" cy="838.40" r="10.0" fill="#fff"/><circle cx="163.98" cy="838.40" r="5.5" fill="#2ca02c"/><circle cx="168.26" cy="838.40" r="10.0" fill="#fff"/><circle cx="168.26" cy="838.40" r="5.5" fill="#2ca02c"/><circle cx="172.54" cy="838.40" r="10.0" fill="#fff"/><circle cx="172.54" cy="838.40" r="5.5" fill="#2ca02c"/><circle cx="176.82" cy="838.40" r="10.0" fill="#fff"/><circle cx="176.82" cy="838.40" r="5.5" fill="#2ca02c"/><circle cx="181.10" cy="838.40" r="10.0" fill="#fff"/><circle cx="181.10" cy="838.40" r="5.5" fill="#2ca02c"/><circle cx="185.38" cy="838.40" r="10.0" fill="#fff"/><circle cx="185.38" cy="838.40" r="5.5" fill="#2ca02c"/><circle cx="189.66" cy="838.40" r="10.0" fill="#fff"/><circle cx="189.66" cy="838.40" r="5.5" fill="#2ca02c"/><circle cx="193.94" cy="838.40" r="10.0" fill="#fff"/><circle cx="193.94" cy="838.40" r="5.5" fill="#2ca02c"/><circle cx="198.22" cy="838.40" r="10.0" fill="#fff"/><circle cx="198.22" cy="838.40" r="5.5" fill="#2ca02c"/><circle cx="202.50" cy="838.40" r="10.0" fill="#fff"/><circle cx="202.50" cy="838.40" r="5.5" fill="#2ca02c"/><circle cx="206.78" cy="838.40" r="10.0" fill="#fff"/><circle cx="206.78" cy="838.40" r="5.5" fill="#2ca02c"/><circle cx="211.06" cy="838.40" r="10.0" fill="#fff"/><circle cx="211.06" cy="838.40" r="5.5" fill="#2ca02c"/><circle cx="215.34" cy="838.40" r="10.0" fill="#fff"/><circle cx="215.34" cy="838.40" r="5.5" fill="#2ca02c"/><circle cx="219.62" cy="838.40" r="10.0" fill="#fff"/><circle cx="219.62" cy="838.40" r="5.5" fill="#2ca02c"/><circle cx="223.90" cy="838.40" r="10.0" fill="#fff"/><circle cx="223.90" cy="838.40" r="5.5" fill="#2ca02c"/><circle cx="228.18" cy="838.40" r="10.0" fill="#fff"/><circle cx="228.18" cy="838.40" r="5.5" fill="#2ca02c"/><circle cx="232.46" cy="838.40" r="10.0" fill="#fff"/><circle cx="232.46" cy="838.40" r="5.5" fill="#2ca02c"/><circle cx="236.74" cy="838.40" r="10.0" fill="#fff"/><circle cx="236.74" cy="838.40" r="5.5" fill="#2ca02c"/><circle cx="241.02" cy="838.40" r="10.0" fill="#fff"/><circle cx="241.02" cy="838.40" r="5.5" fill="#2ca02c"/><circle cx="245.30" cy="838.40" r="10.0" fill="#fff"/><circle cx="245.30" cy="838.40" r="5.5" fill="#2ca02c"/><circle cx="249.58" cy="838.40" r="10.0" fill="#fff"/><circle cx="249.58" cy="838.40" r="5.5" fill="#2ca02c"/><circle cx="253.86" cy="838.40" r="10.0" fill="#fff"/><circle cx="253.86" cy="838.40" r="5.5" fill="#2ca02c"/><circle cx="258.14" cy="838.40" r="10.0" fill="#fff"/><circle cx="258.14" cy="838.40" r="5.5" fill="#2ca02c"/><circle cx="262.42" cy="838.40" r="10.0" fill="#fff"/><circle cx="262.42" cy="838.40" r="5.5" fill="#2ca02c"/><circle cx="266.70" cy="838.40" r="10.0" fill="#fff"/><circle cx="266.70" cy="838.40" r="5.5" fill="#2ca02c"/><circle cx="270.98" cy="838.40" r="10.0" fill="#fff"/><circle cx="270.98" cy="838.40" r="5.5" fill="#2ca02c"/><circle cx="275.26" cy="838.40" r="10.0" fill="#fff"/><circle cx="275.26" cy="838.40" r="5.5" fill="#2ca02c"/><circle cx="279.54" cy="838.40" r="10.0" fill="#fff"/><circle cx="279.54" cy="838.40" r="5.5" fill="#2ca02c"/><circle cx="283.82" cy="838.40" r="10.0" fill="#fff"/><circle cx="283.82" cy="838.40" r="5.5" fill="#2ca02c"/><circle cx="288.10" cy="838.40" r="10.0" fill="#fff"/><circle cx="288.10" cy="838.40" r="5.5" fill="#2ca02c"/><circle cx="292.38" cy="838.40" r="10.0" fill="#fff"/><circle cx="292.38" cy="838.40" r="5.5" fill="#2ca02c"/><circle cx="296.66" cy="838.40" r="10.0" fill="#fff"/><circle cx="296.66" cy="838.40" r="5.5" fill="#2ca02c"/><circle cx="300.94" cy="838.40" r="10.0" fill="#fff"/><circle cx="300.94" cy="838.40" r="5.5" fill="#2ca02c"/><circle cx="305.22" cy="838.40" r="10.0" fill="#fff"/><circle cx="305.22" cy="838.40" r="5.5" fill="#2ca02c"/><circle cx="309.50" cy="838.40" r="10.0" fill="#fff"/><circle cx="309.50" cy="838.40" r="5.5" fill="#2ca02c"/><circle cx="313.78" cy="838.40" r="10.0" fill="#fff"/><circle cx="313.78" cy="838.40" r="5.5" fill="#2ca02c"/><circle cx="318.06" cy="838.40" r="10.0" fill="#fff"/><circle cx="318.06" cy="838.40" r="5.5" fill="#2ca02c"/><circle cx="322.34" cy="838.40" r="10.0" fill="#fff"/><circle cx="322.34" cy="838.40" r="5.5" fill="#2ca02c"/><circle cx="326.62" cy="838.40" r="10.0" fill="#fff"/><circle cx="326.62" cy="838.40" r="5.5" fill="#2ca02c"/><circle cx="330.90" cy="838.40" r="10.0" fill="#fff"/><circle cx="330.90" cy="838.40" r="5.5" fill="#2ca02c"/><circle cx="335.18" cy="838.40" r="10.0" fill="#fff"/><circle cx="335.18" cy="838.40" r="5.5" fill="#2ca02c"/><circle cx="339.46" cy="838.40" r="10.0" fill="#fff"/><circle cx="339.46" cy="838.40" r="5.5" fill="#2ca02c"/><circle cx="343.74" cy="838.40" r="10.0" fill="#fff"/><circle cx="343.74" cy="838.40" r="5.5" fill="#2ca02c"/><circle cx="348.02" cy="838.40" r="10.0" fill="#fff"/><circle cx="348.02" cy="838.40" r="5.5" fill="#2ca02c"/><circle cx="352.30" cy="838.40" r="10.0" fill="#fff"/><circle cx="352.30" cy="838.40" r="5.5" fill="#2ca02c"/><circle cx="356.58" cy="838.40" r="10.0" fill="#fff"/><circle cx="356.58" cy="838.40" r="5.5" fill="#2ca02c"/><circle cx="360.86" cy="838.40" r="10.0" fill="#fff"/><circle cx="360.86" cy="838.40" r="5.5" fill="#2ca02c"/><circle cx="365.14" cy="838.40" r="10.0" fill="#fff"/><circle cx="365.14" cy="838.40" r="5.5" fill="#2ca02c"/><circle cx="369.42" cy="838.40" r="10.0" fill="#fff"/><circle cx="369.42" cy="838.40" r="5.5" fill="#2ca02c"/><circle cx="373.70" cy="838.40" r="10.0" fill="#fff"/><circle cx="373.70" cy="838.40" r="5.5" fill="#2ca02c"/><circle cx="377.98" cy="838.40" r="10.0" fill="#fff"/><circle cx="377.98" cy="838.40" r="5.5" fill="#2ca02c"/><circle cx="382.26" cy="838.40" r="10.0" fill="#fff"/><circle cx="382.26" cy="838.40" r="5.5" fill="#2ca02c"/><circle cx="386.54" cy="838.40" r="10.0" fill="#fff"/><circle cx="386.54" cy="838.40" r="5.5" fill="#2ca02c"/><circle cx="390.82" cy="838.40" r="10.0" fill="#fff"/><circle cx="390.82" cy="838.40" r="5.5" fill="#2ca02c"/><circle cx="395.10" cy="838.40" r="10.0" fill="#fff"/><circle cx="395.10" cy="838.40" r="5.5" fill="#2ca02c"/><circle cx="399.38" cy="838.40" r="10.0" fill="#fff"/><circle cx="399.38" cy="838.40" r="5.5" fill="#2ca02c"/><circle cx="403.66" cy="838.40" r="10.0" fill="#fff"/><circle cx="403.66" cy="838.40" r="5.5" fill="#2ca02c"/><circle cx="407.94" cy="838.40" r="10.0" fill="#fff"/><circle cx="407.94" cy="838.40" r="5.5" fill="#2ca02c"/><circle cx="412.22" cy="838.40" r="10.0" fill="#fff"/><circle cx="412.22" cy="838.40" r="5.5" fill="#2ca02c"/><circle cx="416.50" cy="838.40" r="10.0" fill="#fff"/><circle cx="416.50" cy="838.40" r="5.5" fill="#2ca02c"/><circle cx="420.78" cy="838.40" r="10.0" fill="#fff"/><circle cx="420.78" cy="838.40" r="5.5" fill="#2ca02c"/><circle cx="425.06" cy="838.40" r="10.0" fill="#fff"/><circle cx="425.06" cy="838.40" r="5.5" fill="#2ca02c"/><circle cx="429.34" cy="838.40" r="10.0" fill="#fff"/><circle cx="429.34" cy="838.40" r="5.5" fill="#2ca02c"/><circle cx="433.62" cy="838.40" r="10.0" fill="#fff"/><circle cx="433.62" cy="838.40" r="5.5" fill="#2ca02c"/><circle cx="437.90" cy="838.40" r="10.0" fill="#fff"/><circle cx="437.90" cy="838.40" r="5.5" fill="#2ca02c"/><circle cx="442.18" cy="838.40" r="10.0" fill="#fff"/><circle cx="442.18" cy="838.40" r="5.5" fill="#2ca02c"/><circle cx="446.46" cy="838.40" r="10.0" fill="#fff"/><circle cx="446.46" cy="838.40" r="5.5" fill="#2ca02c"/><circle cx="450.74" cy="838.40" r="10.0" fill="#fff"/><circle cx="450.74" cy="838.40" r="5.5" fill="#2ca02c"/><circle cx="455.02" cy="838.40" r="10.0" fill="#fff"/><circle cx="455.02" cy="838.40" r="5.5" fill="#2ca02c"/><circle cx="459.30" cy="838.40" r="10.0" fill="#fff"/><circle cx="459.30" cy="838.40" r="5.5" fill="#2ca02c"/><circle cx="463.58" cy="838.40" r="10.0" fill="#fff"/><circle cx="463.58" cy="838.40" r="5.5" fill="#2ca02c"/><circle cx="467.86" cy="838.40" r="10.0" fill="#fff"/><circle cx="467.86" cy="838.40" r="5.5" fill="#2ca02c"/><circle cx="472.14" cy="838.40" r="10.0" fill="#fff"/><circle cx="472.14" cy="838.40" r="5.5" fill="#2ca02c"/><circle cx="476.42" cy="838.40" r="10.0" fill="#fff"/><circle cx="476.42" cy="838.40" r="5.5" fill="#2ca02c"/><circle cx="480.70" cy="838.40" r="10.0" fill="#fff"/><circle cx="480.70" cy="838.40" r="5.5" fill="#2ca02c"/><circle cx="484.98" cy="838.40" r="10.0" fill="#fff"/><circle cx="484.98" cy="838.40" r="5.5" fill="#2ca02c"/><circle cx="489.26" cy="838.40" r="10.0" fill="#fff"/><circle cx="489.26" cy="838.40" r="5.5" fill="#2ca02c"/><circle cx="493.54" cy="838.40" r="10.0" fill="#fff"/><circle cx="493.54" cy="838.40" r="5.5" fill="#2ca02c"/><circle cx="497.82" cy="838.40" r="10.0" fill="#fff"/><circle cx="497.82" cy="838.40" r="5.5" fill="#2ca02c"/><circle cx="502.10" cy="838.40" r="10.0" fill="#fff"/><circle cx="502.10" cy="838.40" r="5.5" fill="#2ca02c"/><circle cx="506.38" cy="838.40" r="10.0" fill="#fff"/><circle cx="506.38" cy="838.40" r="5.5" fill="#2ca02c"/><circle cx="510.66" cy="838.40" r="10.0" fill="#fff"/><circle cx="510.66" cy="838.40" r="5.5" fill="#2ca02c"/><circle cx="514.94" cy="838.40" r="10.0" fill="#fff"/><circle cx="514.94" cy="838.40" r="5.5" fill="#2ca02c"/><circle cx="519.22" cy="838.40" r="10.0" fill="#fff"/><circle cx="519.22" cy="838.40" r="5.5" fill="#2ca02c"/><circle cx="523.50" cy="838.40" r="10.0" fill="#fff"/><circle cx="523.50" cy="838.40" r="5.5" fill="#2ca02c"/><circle cx="527.78" cy="838.40" r="10.0" fill="#fff"/><circle cx="527.78" cy="838.40" r="5.5" fill="#2ca02c"/><circle cx="532.06" cy="838.40" r="10.0" fill="#fff"/><circle cx="532.06" cy="838.40" r="5.5" fill="#2ca02c"/><circle cx="536.34" cy="838.40" r="10.0" fill="#fff"/><circle cx="536.34" cy="838.40" r="5.5" fill="#2ca02c"/><circle cx="540.62" cy="838.40" r="10.0" fill="#fff"/><circle cx="540.62" cy="838.40" r="5.5" fill="#2ca02c"/><circle cx="544.90" cy="838.40" r="10.0" fill="#fff"/><circle cx="544.90" cy="838.40" r="5.5" fill="#2ca02c"/><circle cx="549.18" cy="838.40" r="10.0" fill="#fff"/><circle cx="549.18" cy="838.40" r="5.5" fill="#2ca02c"/><circle cx="553.46" cy="838.40" r="10.0" fill="#fff"/><circle cx="553.46" cy="838.40" r="5.5" fill="#2ca02c"/><circle cx="557.74" cy="838.40" r="10.0" fill="#fff"/><circle cx="557.74" cy="838.40" r="5.5" fill="#2ca02c"/><circle cx="562.02" cy="838.40" r="10.0" fill="#fff"/><circle cx="562.02" cy="838.40" r="5.5" fill="#2ca02c"/><circle cx="566.30" cy="838.40" r="10.0" fill="#fff"/><circle cx="566.30" cy="838.40" r="5.5" fill="#2ca02c"/><circle cx="570.58" cy="838.40" r="10.0" fill="#fff"/><circle cx="570.58" cy="838.40" r="5.5" fill="#2ca02c"/><circle cx="574.86" cy="838.40" r="10.0" fill="#fff"/><circle cx="574.86" cy="838.40" r="5.5" fill="#2ca02c"/><circle cx="579.14" cy="838.40" r="10.0" fill="#fff"/><circle cx="579.14" cy="838.40" r="5.5" fill="#2ca02c"/><circle cx="583.42" cy="838.40" r="10.0" fill="#fff"/><circle cx="583.42" cy="838.40" r="5.5" fill="#2ca02c"/><circle cx="587.70" cy="838.40" r="10.0" fill="#fff"/><circle cx="587.70" cy="838.40" r="5.5" fill="#2ca02c"/><circle cx="591.98" cy="838.40" r="10.0" fill="#fff"/><circle cx="591.98" cy="838.40" r="5.5" fill="#2ca02c"/><circle cx="596.26" cy="838.40" r="10.0" fill="#fff"/><circle cx="596.26" cy="838.40" r="5.5" fill="#2ca02c"/><circle cx="600.54" cy="838.40" r="10.0" fill="#fff"/><circle cx="600.54" cy="838.40" r="5.5" fill="#2ca02c"/><circle cx="604.82" cy="838.40" r="10.0" fill="#fff"/><circle cx="604.82" cy="838.40" r="5.5" fill="#2ca02c"/><circle cx="609.10" cy="838.40" r="10.0" fill="#fff"/><circle cx="609.10" cy="838.40" r="5.5" fill="#2ca02c"/><circle cx="613.38" cy="838.40" r="10.0" fill="#fff"/><circle cx="613.38" cy="838.40" r="5.5" fill="#2ca02c"/><circle cx="617.66" cy="838.40" r="10.0" fill="#fff"/><circle cx="617.66" cy="838.40" r="5.5" fill="#2ca02c"/><circle cx="621.94" cy="838.40" r="10.0" fill="#fff"/><circle cx="621.94" cy="838.40" r="5.5" fill="#2ca02c"/><circle cx="626.22" cy="838.40" r="10.0" fill="#fff"/><circle cx="626.22" cy="838.40" r="5.5" fill="#2ca02c"/><circle cx="630.50" cy="838.40" r="10.0" fill="#fff"/><circle cx="630.50" cy="838.40" r="5.5" fill="#2ca02c"/><circle cx="634.78" cy="838.40" r="10.0" fill="#fff"/><circle cx="634.78" cy="838.40" r="5.5" fill="#2ca02c"/><circle cx="639.06" cy="838.40" r="10.0" fill="#fff"/><circle cx="639.06" cy="838.40" r="5.5" fill="#2ca02c"/><circle cx="643.34" cy="838.40" r="10.0" fill="#fff"/><circle cx="643.34" cy="838.40" r="5.5" fill="#2ca02c"/><circle cx="647.62" cy="838.40" r="10.0" fill="#fff"/><circle cx="647.62" cy="838.40" r="5.5" fill="#2ca02c"/><circle cx="651.90" cy="838.40" r="10.0" fill="#fff"/><circle cx="651.90" cy="838.40" r="5.5" fill="#2ca02c"/><circle cx="656.18" cy="838.40" r="10.0" fill="#fff"/><circle cx="656.18" cy="838.40" r="5.5" fill="#2ca02c"/><circle cx="660.46" cy="838.40" r="10.0" fill="#fff"/><circle cx="660.46" cy="838.40" r="5.5" fill="#2ca02c"/><circle cx="664.74" cy="838.40" r="10.0" fill="#fff"/><circle cx="664.74" cy="838.40" r="5.5" fill="#2ca02c"/><circle cx="669.02" cy="838.40" r="10.0" fill="#fff"/><circle cx="669.02" cy="838.40" r="5.5" fill="#2ca02c"/><circle cx="673.30" cy="838.40" r="10.0" fill="#fff"/><circle cx="673.30" cy="838.40" r="5.5" fill="#2ca02c"/><circle cx="677.58" cy="838.40" r="10.0" fill="#fff"/><circle cx="677.58" cy="838.40" r="5.5" fill="#2ca02c"/><circle cx="681.86" cy="838.40" r="10.0" fill="#fff"/><circle cx="681.86" cy="838.40" r="5.5" fill="#2ca02c"/><circle cx="686.14" cy="838.40" r="10.0" fill="#fff"/><circle cx="686.14" cy="838.40" r="5.5" fill="#2ca02c"/><circle cx="690.42" cy="838.40" r="10.0" fill="#fff"/><circle cx="690.42" cy="838.40" r="5.5" fill="#2ca02c"/><circle cx="694.70" cy="838.40" r="10.0" fill="#fff"/><circle cx="694.70" cy="838.40" r="5.5" fill="#2ca02c"/><circle cx="698.98" cy="838.40" r="10.0" fill="#fff"/><circle cx="698.98" cy="838.40" r="5.5" fill="#2ca02c"/><circle cx="703.26" cy="838.40" r="10.0" fill="#fff"/><circle cx="703.26" cy="838.40" r="5.5" fill="#2ca02c"/><circle cx="707.54" cy="838.40" r="10.0" fill="#fff"/><circle cx="707.54" cy="838.40" r="5.5" fill="#2ca02c"/><circle cx="711.82" cy="838.40" r="10.0" fill="#fff"/><circle cx="711.82" cy="838.40" r="5.5" fill="#2ca02c"/><circle cx="716.10" cy="838.40" r="10.0" fill="#fff"/><circle cx="716.10" cy="838.40" r="5.5" fill="#2ca02c"/><circle cx="720.38" cy="838.40" r="10.0" fill="#fff"/><circle cx="720.38" cy="838.40" r="5.5" fill="#2ca02c"/><circle cx="724.66" cy="838.40" r="10.0" fill="#fff"/><circle cx="724.66" cy="838.40" r="5.5" fill="#2ca02c"/><circle cx="728.94" cy="838.40" r="10.0" fill="#fff"/><circle cx="728.94" cy="838.40" r="5.5" fill="#2ca02c"/><circle cx="733.22" cy="838.40" r="10.0" fill="#fff"/><circle cx="733.22" cy="838.40" r="5.5" fill="#2ca02c"/><circle cx="737.50" cy="838.40" r="10.0" fill="#fff"/><circle cx="737.50" cy="838.40" r="5.5" fill="#2ca02c"/><circle cx="741.78" cy="838.40" r="10.0" fill="#fff"/><circle cx="741.78" cy="838.40" r="5.5" fill="#2ca02c"/><circle cx="746.06" cy="838.40" r="10.0" fill="#fff"/><circle cx="746.06" cy="838.40" r="5.5" fill="#2ca02c"/><circle cx="750.34" cy="838.40" r="10.0" fill="#fff"/><circle cx="750.34" cy="838.40" r="5.5" fill="#2ca02c"/><circle cx="754.62" cy="838.40" r="10.0" fill="#fff"/><circle cx="754.62" cy="838.40" r="5.5" fill="#2ca02c"/><circle cx="758.90" cy="838.40" r="10.0" fill="#fff"/><circle cx="758.90" cy="838.40" r="5.5" fill="#2ca02c"/><circle cx="763.18" cy="838.40" r="10.0" fill="#fff"/><circle cx="763.18" cy="838.40" r="5.5" fill="#2ca02c"/><circle cx="767.46" cy="838.40" r="10.0" fill="#fff"/><circle cx="767.46" cy="838.40" r="5.5" fill="#2ca02c"/><circle cx="771.74" cy="838.40" r="10.0" fill="#fff"/><circle cx="771.74" cy="838.40" r="5.5" fill="#2ca02c"/><circle cx="776.02" cy="838.40" r="10.0" fill="#fff"/><circle cx="776.02" cy="838.40" r="5.5" fill="#2ca02c"/><circle cx="780.30" cy="838.40" r="10.0" fill="#fff"/><circle cx="780.30" cy="838.40" r="5.5" fill="#2ca02c"/><circle cx="784.58" cy="838.40" r="10.0" fill="#fff"/><circle cx="784.58" cy="838.40" r="5.5" fill="#2ca02c"/><circle cx="788.86" cy="838.40" r="10.0" fill="#fff"/><circle cx="788.86" cy="838.40" r="5.5" fill="#2ca02c"/><circle cx="793.14" cy="838.40" r="10.0" fill="#fff"/><circle cx="793.14" cy="838.40" r="5.5" fill="#2ca02c"/><circle cx="797.42" cy="838.40" r="10.0" fill="#fff"/><circle cx="797.42" cy="838.40" r="5.5" fill="#2ca02c"/><circle cx="801.70" cy="838.40" r="10.0" fill="#fff"/><circle cx="801.70" cy="838.40" r="5.5" fill="#2ca02c"/><circle cx="805.98" cy="838.40" r="10.0" fill="#fff"/><circle cx="805.98" cy="838.40" r="5.5" fill="#2ca02c"/><circle cx="810.26" cy="838.40" r="10.0" fill="#fff"/><circle cx="810.26" cy="838.40" r="5.5" fill="#2ca02c"/><circle cx="814.54" cy="838.40" r="10.0" fill="#fff"/><circle cx="814.54" cy="838.40" r="5.5" fill="#2ca02c"/><circle cx="818.82" cy="838.40" r="10.0" fill="#fff"/><circle cx="818.82" cy="838.40" r="5.5" fill="#2ca02c"/><circle cx="823.10" cy="838.40" r="10.0" fill="#fff"/><circle cx="823.10" cy="838.40" r="5.5" fill="#2ca02c"/><circle cx="827.38" cy="838.40" r="10.0" fill="#fff"/><circle cx="827.38" cy="838.40" r="5.5" fill="#2ca02c"/><circle cx="831.66" cy="838.40" r="10.0" fill="#fff"/><circle cx="831.66" cy="838.40" r="5.5" fill="#2ca02c"/><circle cx="835.94" cy="838.40" r="10.0" fill="#fff"/><circle cx="835.94" cy="838.40" r="5.5" fill="#2ca02c"/><circle cx="840.22" cy="838.40" r="10.0" fill="#fff"/><circle cx="840.22" cy="838.40" r="5.5" fill="#2ca02c"/><circle cx="844.50" cy="838.40" r="10.0" fill="#fff"/><circle cx="844.50" cy="838.40" r="5.5" fill="#2ca02c"/><circle cx="848.78" cy="838.40" r="10.0" fill="#fff"/><circle cx="848.78" cy="838.40" r="5.5" fill="#2ca02c"/><circle cx="853.06" cy="838.40" r="10.0" fill="#fff"/><circle cx="853.06" cy="838.40" r="5.5" fill="#2ca02c"/><circle cx="857.34" cy="838.40" r="10.0" fill="#fff"/><circle cx="857.34" cy="838.40" r="5.5" fill="#2ca02c"/><circle cx="861.62" cy="838.40" r="10.0" fill="#fff"/><circle cx="861.62" cy="838.40" r="5.5" fill="#2ca02c"/><circle cx="865.90" cy="838.40" r="10.0" fill="#fff"/><circle cx="865.90" cy="838.40" r="5.5" fill="#2ca02c"/><circle cx="870.18" cy="838.40" r="10.0" fill="#fff"/><circle cx="870.18" cy="838.40" r="5.5" fill="#2ca02c"/><circle cx="874.46" cy="838.40" r="10.0" fill="#fff"/><circle cx="874.46" cy="838.40" r="5.5" fill="#2ca02c"/><circle cx="878.74" cy="838.40" r="10.0" fill="#fff"/><circle cx="878.74" cy="838.40" r="5.5" fill="#2ca02c"/><circle cx="883.02" cy="838.40" r="10.0" fill="#fff"/><circle cx="883.02" cy="838.40" r="5.5" fill="#2ca02c"/><circle cx="887.30" cy="838.40" r="10.0" fill="#fff"/><circle cx="887.30" cy="838.40" r="5.5" fill="#2ca02c"/><circle cx="891.58" cy="838.40" r="10.0" fill="#fff"/><circle cx="891.58" cy="838.40" r="5.5" fill="#2ca02c"/><circle cx="895.86" cy="838.40" r="10.0" fill="#fff"/><circle cx="895.86" cy="838.40" r="5.5" fill="#2ca02c"/><circle cx="900.14" cy="838.40" r="10.0" fill="#fff"/><circle cx="900.14" cy="838.40" r="5.5" fill="#2ca02c"/><circle cx="904.42" cy="838.40" r="10.0" fill="#fff"/><circle cx="904.42" cy="838.40" r="5.5" fill="#2ca02c"/><circle cx="908.70" cy="838.40" r="10.0" fill="#fff"/><circle cx="908.70" cy="838.40" r="5.5" fill="#2ca02c"/><circle cx="912.98" cy="838.40" r="10.0" fill="#fff"/><circle cx="912.98" cy="838.40" r="5.5" fill="#2ca02c"/><circle cx="917.26" cy="838.40" r="10.0" fill="#fff"/><circle cx="917.26" cy="838.40" r="5.5" fill="#2ca02c"/><circle cx="921.54" cy="838.40" r="10.0" fill="#fff"/><circle cx="921.54" cy="838.40" r="5.5" fill="#2ca02c"/><circle cx="925.82" cy="838.40" r="10.0" fill="#fff"/><circle cx="925.82" cy="838.40" r="5.5" fill="#2ca02c"/><circle cx="930.10" cy="838.40" r="10.0" fill="#fff"/><circle cx="930.10" cy="838.40" r="5.5" fill="#2ca02c"/><circle cx="934.38" cy="838.40" r="10.0" fill="#fff"/><circle cx="934.38" cy="838.40" r="5.5" fill="#2ca02c"/><circle cx="938.66" cy="838.40" r="10.0" fill="#fff"/><circle cx="938.66" cy="838.40" r="5.5" fill="#2ca02c"/><circle cx="942.94" cy="838.40" r="10.0" fill="#fff"/><circle cx="942.94" cy="838.40" r="5.5" fill="#2ca02c"/><circle cx="947.22" cy="838.40" r="10.0" fill="#fff"/><circle cx="947.22" cy="838.40" r="5.5" fill="#2ca02c"/><circle cx="951.50" cy="838.40" r="10.0" fill="#fff"/><circle cx="951.50" cy="838.40" r="5.5" fill="#2ca02c"/><circle cx="955.78" cy="838.40" r="10.0" fill="#fff"/><circle cx="955.78" cy="838.40" r="5.5" fill="#2ca02c"/>
<path d="M91.21 834.80A5.6 5.6 0 0 0 91.21 842.00M104.05 834.80A5.6 5.6 0 0 0 104.05 842.00M121.17 834.80A5.6 5.6 0 0 0 121.17 842.00M134.01 834.80A5.6 5.6 0 0 0 134.01 842.00M151.13 834.80A5.6 5.6 0 0 0 151.13 842.00M168.25 834.80A5.6 5.6 0 0 0 168.25 842.00M181.09 834.80A5.6 5.6 0 0 0 181.09 842.00M198.21 834.80A5.6 5.6 0 0 0 198.21 842.00M211.05 834.80A5.6 5.6 0 0 0 211.05 842.00M228.17 834.80A5.6 5.6 0 0 0 228.17 842.00M241.01 834.80A5.6 5.6 0 0 0 241.01 842.00M258.13 834.80A5.6 5.6 0 0 0 258.13 842.00M275.25 834.80A5.6 5.6 0 0 0 275.25 842.00M288.09 834.80A5.6 5.6 0 0 0 288.09 842.00M305.21 834.80A5.6 5.6 0 0 0 305.21 842.00M318.05 834.80A5.6 5.6 0 0 0 318.05 842.00M335.17 834.80A5.6 5.6 0 0 0 335.17 842.00M348.01 834.80A5.6 5.6 0 0 0 348.01 842.00M365.13 834.80A5.6 5.6 0 0 0 365.13 842.00M382.25 834.80A5.6 5.6 0 0 0 382.25 842.00M395.09 834.80A5.6 5.6 0 0 0 395.09 842.00M412.21 834.80A5.6 5.6 0 0 0 412.21 842.00M425.05 834.80A5.6 5.6 0 0 0 425.05 842.00M442.17 834.80A5.6 5.6 0 0 0 442.17 842.00M455.01 834.80A5.6 5.6 0 0 0 455.01 842.00M472.13 834.80A5.6 5.6 0 0 0 472.13 842.00M489.25 834.80A5.6 5.6 0 0 0 489.25 842.00M502.09 834.80A5.6 5.6 0 0 0 502.09 842.00M519.21 834.80A5.6 5.6 0 0 0 519.21 842.00M532.05 834.80A5.6 5.6 0 0 0 532.05 842.00M549.17 834.80A5.6 5.6 0 0 0 549.17 842.00M562.01 834.80A5.6 5.6 0 0 0 562.01 842.00M579.13 834.80A5.6 5.6 0 0 0 579.13 842.00M596.25 834.80A5.6 5.6 0 0 0 596.25 842.00M609.09 834.80A5.6 5.6 0 0 0 609.09 842.00M626.21 834.80A5.6 5.6 0 0 0 626.21 842.00M639.05 834.80A5.6 5.6 0 0 0 639.05 842.00M656.17 834.80A5.6 5.6 0 0 0 656.17 842.00M669.01 834.80A5.6 5.6 0 0 0 669.01 842.00M686.13 834.80A5.6 5.6 0 0 0 686.13 842.00M703.25 834.80A5.6 5.6 0 0 0 703.25 842.00M716.09 834.80A5.6 5.6 0 0 0 716.09 842.00M733.21 834.80A5.6 5.6 0 0 0 733.21 842.00M746.05 834.80A5.6 5.6 0 0 0 746.05 842.00M763.17 834.80A5.6 5.6 0 0 0 763.17 842.00M776.01 834.80A5.6 5.6 0 0 0 776.01 842.00M793.13 834.80A5.6 5.6 0 0 0 793.13 842.00M810.25 834.80A5.6 5.6 0 0 0 810.25 842.00M823.09 834.80A5.6 5.6 0 0 0 823.09 842.00M840.21 834.80A5.6 5.6 0 0 0 840.21 842.00M853.05 834.80A5.6 5.6 0 0 0 853.05 842.00M870.17 834.80A5.6 5.6 0 0 0 870.17 842.00M883.01 834.80A5.6 5.6 0 0 0 883.01 842.00M900.13 834.80A5.6 5.6 0 0 0 900.13 842.00M917.25 834.80A5.6 5.6 0 0 0 917.25 842.00M930.09 834.80A5.6 5.6 0 0 0 930.09 842.00M947.21 834.80A5.6 5.6 0 0 0 947.21 842.00" stroke="#2ca02c" stroke-opacity="0.5" stroke-width="0.8" fill="none"/>
<path d="M95.5 57.5V838.4H1165.5" stroke="#000" stroke-width="1.2" fill="none"/>
<text x="630.4" y="892" text-anchor="middle">Time (s)</text>
<text transform="translate(24.2 448.3) rotate(-90)" text-anchor="middle">Packets</text>
<text x="33" y="35">/mnt/stor0/searchlight/corpus/experiment<tspan font-size="12" dy="3.8">3</tspan><tspan dy="-3.8">/eth1</tspan><tspan font-size="12" dy="3.8">i</tspan><tspan dy="-3.8">nterface/exp-b-720-hls-http2/1646752943-c0.caubryvid.hdumb.pharos-exp-b-720-hls-http2.pcap</tspan></text>
<text x="1087.2" y="80.1" text-anchor="end">TCP</text>
<path d="M1098.3 74.3H1110.4M1132.5 74.3H1144.6" stroke="#0060ad" stroke-width="2" stroke-linecap="round"/>
<circle cx="1121.4" cy="74.3" r="5.5" fill="#0060ad"/>
<text x="1087.2" y="99.2" text-anchor="end">UDP</text>
<path d="M1098.3 93.4H1110.4M1132.5 93.4H1144.6" stroke="#ff7f0e" stroke-width="2" stroke-linecap="round"/>
<circle cx="1121.4" cy="93.4" r="5.5" fill="#ff7f0e"/>
<text x="1087.2" y="118.3" text-anchor="end">IP (!TCP&#160; !UDP)</text>
<path d="M1098.3 112.5H1110.4M1132.5 112.5H1144.6" stroke="#2ca02c" stroke-width="2" stroke-linecap="round"/>
<circle cx="1121.4" cy="112.5" r="5.5" fill="#2ca02c"/>
</svg></body></html>
